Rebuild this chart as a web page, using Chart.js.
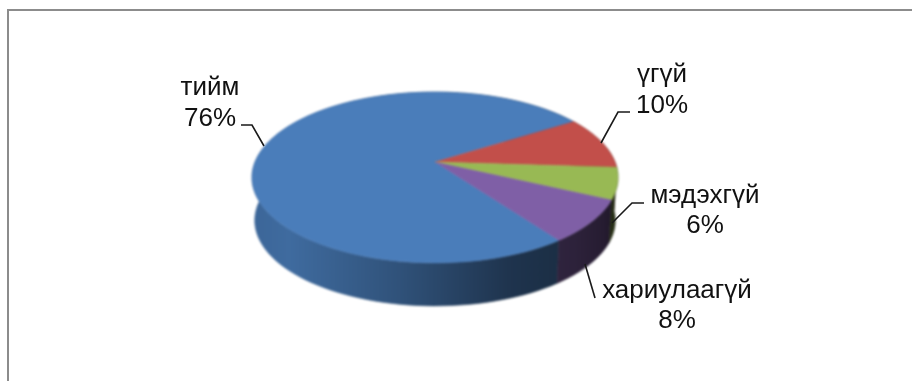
<!DOCTYPE html>
<html><head><meta charset="utf-8">
<style>html,body{margin:0;padding:0;background:#fff}canvas{display:block}</style>
<script src="https://cdn.jsdelivr.net/npm/chart.js@4"></script>
</head><body><canvas id="c" width="912" height="381"></canvas>
<script>
const categories = ['тийм','үгүй','мэдэхгүй','хариулаагүй'];
const percents = [76,10,6,8];
const colors = ['#4a7dba','#c24f4a','#98b954','#7f5fa6'];
const labelAnchors = [[210,95,31],[662,82,31],[705,203,30],[677,298,30]];
const leaders = [
 [[241,125],[252,125],[264,146]],
 [[630,112],[618,112],[601,143]],
 [[644,203],[632,203],[612,223]],
 [[585,264],[595,298]]
];
const cx=435, topY=162, R=180, b=53.3, c=-0.181;
function proj(a, drop, shrink){
  const u=Math.cos(a), v=Math.sin(a), w=1+c*v;
  return [cx+shrink*R*u/w, (topY+b*v)/w+drop];
}
function shade(hex,f){
  const n=parseInt(hex.slice(1),16);
  return `rgb(${(n>>16)*f|0},${((n>>8)&255)*f|0},${(n&255)*f|0})`;
}
const pie3d = {
  id:'pie3d',
  beforeDatasetDraw(){ return false; },
  afterDraw(chart){
    const ctx=chart.ctx, arcs=chart.getDatasetMeta(0).data;
    ctx.save();
    ctx.strokeStyle='#8c8c8c'; ctx.lineWidth=2;
    ctx.beginPath(); ctx.moveTo(8,381); ctx.lineTo(8,10); ctx.lineTo(912,10); ctx.stroke();
    const off=document.createElement('canvas'); off.width=912; off.height=381;
    const o=off.getContext('2d');
    arcs.forEach((el,i)=>{
      const s=el.startAngle,e=el.endAngle,n=120;
      const g=o.createLinearGradient(252,0,618,0);
      [[0,.82],[.1,.86],[.4,.66],[.7,.42],[.88,.36],[.96,.3],[1,.22]].forEach(([p,f])=>g.addColorStop(p,shade(colors[i],f)));
      o.fillStyle=g; o.strokeStyle=g; o.lineWidth=.6; o.beginPath();
      for(let k=0;k<=n;k++){const p=proj(s+(e-s)*k/n,0,1);o.lineTo(p[0],p[1]);}
      for(let k=n;k>=0;k--){const p=proj(s+(e-s)*k/n,43,.985);o.lineTo(p[0],p[1]);}
      o.closePath(); o.fill(); o.stroke();
    });
    arcs.forEach((el,i)=>{
      const s=el.startAngle,e=el.endAngle,n=160;
      o.fillStyle=colors[i]; o.strokeStyle=colors[i]; o.lineWidth=.5;
      o.beginPath(); o.moveTo(cx,topY);
      for(let k=0;k<=n;k++){const p=proj(s+(e-s)*k/n,0,1);o.lineTo(p[0],p[1]);}
      o.closePath(); o.fill(); o.stroke();
    });
    ctx.filter='blur(0.8px)'; ctx.drawImage(off,0,0); ctx.filter='none';
    ctx.strokeStyle='#1a1a1a'; ctx.lineWidth=1.6;
    leaders.forEach(l=>{ctx.beginPath();l.forEach(p=>ctx.lineTo(p[0],p[1]));ctx.stroke();});
    ctx.fillStyle='#111'; ctx.font='26px "Liberation Sans"'; ctx.textAlign='center'; ctx.textBaseline='alphabetic';
    categories.forEach((t,i)=>{
      const [x,y,dy]=labelAnchors[i];
      ctx.fillText(t,x,y); ctx.fillText(percents[i]+'%',x,y+dy);
    });
    ctx.restore();
  }
};
new Chart(document.getElementById('c'),{
  type:'pie',
  data:{labels:categories,datasets:[{data:percents,backgroundColor:colors,borderWidth:0}]},
  options:{responsive:false,animation:false,rotation:144,
    plugins:{legend:{display:false},tooltip:{enabled:false}}},
  plugins:[pie3d]
});
</script></body></html>
